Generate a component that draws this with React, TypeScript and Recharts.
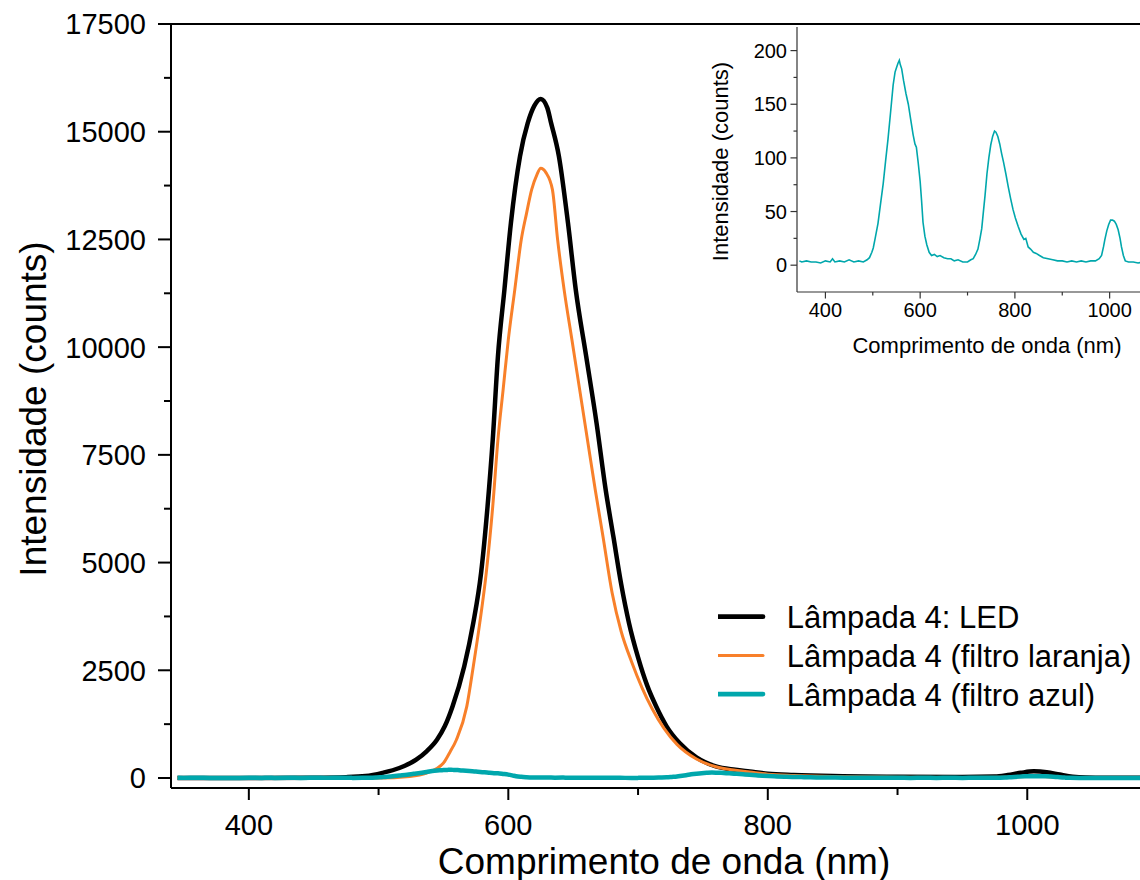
import React from "react";
import { LineChart, Line, XAxis, YAxis, ReferenceLine, Legend, Label } from "recharts";

const FONT = '"Liberation Sans", Arial, sans-serif';
const BLACK = "#000000";
const ORANGE = "#F8802A";
const TEAL = "#00A7AC";

// Lâmpada 4: LED (sem filtro)
const ledNm = [
  345, 400, 450, 475, 490, 503, 516, 529, 537, 545, 551, 557, 566, 573, 579, 584, 588, 592, 597, 602,
  609, 615, 620, 625, 630, 633, 639, 646, 652, 660, 668, 675, 681, 687, 693, 700, 707, 714, 722, 732,
  745, 760, 775, 786, 800, 820, 850, 900, 950, 975, 985, 995, 1005, 1015, 1025, 1035, 1045, 1060, 1100,
];
const ledCounts = [
  0, 2, 8, 20, 45, 120, 232, 425, 620, 889, 1200, 1662, 2590, 3598, 4759, 6305, 7853, 9787, 11335, 12883,
  14430, 15204, 15600, 15760, 15560, 15200, 14430, 12880, 11330, 9790, 8240, 6700, 5600, 4500, 3600, 2800, 2150, 1660, 1200, 810,
  480, 270, 190, 150, 100, 70, 45, 30, 25, 35, 70, 120, 155, 135, 80, 30, 10, 5, 5,
];

// Lâmpada 4 (filtro laranja)
const laranjaNm = [
  345, 500, 524, 537, 550, 555, 560, 568, 573, 578, 583, 588, 592, 596, 600, 605, 610, 614, 618, 622,
  625, 629, 634, 638, 643, 649, 655, 661, 667, 673, 680, 687, 695, 703, 711, 720, 730, 745, 760, 775,
  786, 800, 820, 850, 900, 950, 985, 1000, 1008, 1020, 1035, 1050, 1100,
];
const laranjaCounts = [
  0, 0, 37, 116, 348, 600, 889, 1662, 2590, 3600, 4760, 6305, 7853, 9014, 10175, 11335, 12496, 13100, 13656, 14000,
  14150, 14050, 13656, 12496, 11335, 10175, 9014, 7853, 6692, 5600, 4300, 3400, 2700, 2100, 1600, 1150, 780, 440, 260, 180,
  140, 90, 60, 35, 20, 12, 20, 35, 38, 25, 8, 3, 3,
];

// Lâmpada 4 (filtro azul)
const azulNm = [
  345, 350, 360, 370, 380, 390, 400, 410, 415, 420, 430, 440, 450, 460, 470, 480, 488, 493, 498, 501,
  505, 511, 516, 522, 527, 532, 537, 543, 547, 550, 553, 556, 558, 561, 565, 570, 575, 580, 585, 589,
  592, 596, 600, 603, 606, 610, 614, 619, 624, 630, 636, 642, 650, 658, 665, 672, 680, 690, 700, 707,
  712, 717, 722, 726, 730, 734, 737, 741, 745, 749, 753, 757, 760, 764, 768, 772, 776, 781, 786, 791,
  796, 801, 807, 813, 819, 823, 828, 833, 839, 845, 852, 860, 870, 880, 890, 900, 910, 920, 930, 940,
  950, 960, 970, 978, 983, 987, 990, 994, 998, 1002, 1006, 1010, 1014, 1018, 1022, 1025, 1029, 1033, 1040, 1050,
  1060, 1070, 1080, 1090, 1100,
];
const azulCounts = [
  4, 3, 4, 3, 3, 2, 4, 3, 6, 3, 4, 3, 5, 3, 4, 3, 5, 7, 12, 16,
  25, 39, 56, 76, 97, 117, 140, 168, 180, 184, 188, 191, 187, 183, 172, 160, 150, 136, 122, 113,
  110, 95, 78, 60, 40, 27, 19, 12, 9, 10, 8, 9, 7, 6, 6, 4, 5, 3, 3, 5,
  6, 10, 15, 24, 34, 52, 65, 85, 100, 112, 120, 125, 124, 120, 113, 104, 96, 85, 73, 62,
  52, 44, 36, 29, 24, 25, 17, 15, 12, 11, 9, 7, 6, 5, 4, 4, 3, 4, 3, 4,
  3, 4, 4, 6, 9, 17, 24, 32, 38, 42, 42, 41, 38, 33, 25, 17, 9, 4, 3, 3,
  2, 3, 3, 2, 3,
];

const mainXTicks = [400, 500, 600, 700, 800, 900, 1000];
const mainYTicks = [
  0, 1250, 2500, 3750, 5000, 6250, 7500, 8750, 10000, 11250, 12500, 13750, 15000, 16250, 17500,
];
const insetXTicks = [400, 500, 600, 700, 800, 900, 1000];
const insetYTicks = [0, 25, 50, 75, 100, 125, 150, 175, 200];

const toRows = (nm: number[], counts: number[]) =>
  nm.map((x, i) => ({ nm: x, counts: counts[i] }));

const ledData = toRows(ledNm, ledCounts);
const laranjaData = toRows(laranjaNm, laranjaCounts);
const azulData = toRows(azulNm, azulCounts);

// ticks with minor marks: tickSize=0 so (x, y) is on the axis line
const xTick =
  (majorStep: number, majorLen: number, minorLen: number, fontSize: number, labelDy: number, stroke: string, sw: number) =>
  (props: any) => {
    const { x, y, payload } = props;
    const major = payload.value % majorStep === 0;
    return (
      <g>
        <line x1={x} x2={x} y1={y} y2={y + (major ? majorLen : minorLen)} stroke={stroke} strokeWidth={sw} />
        {major && (
          <text x={x} y={y + labelDy} textAnchor="middle" fontSize={fontSize} fontFamily={FONT} fill="#000">
            {payload.value}
          </text>
        )}
      </g>
    );
  };

const yTick =
  (majorStep: number, majorLen: number, minorLen: number, fontSize: number, gap: number, stroke: string, sw: number) =>
  (props: any) => {
    const { x, y, payload } = props;
    const major = payload.value % majorStep === 0;
    return (
      <g>
        <line x1={x} x2={x - (major ? majorLen : minorLen)} y1={y} y2={y} stroke={stroke} strokeWidth={sw} />
        {major && (
          <text x={x - gap} y={y} dy="0.36em" textAnchor="end" fontSize={fontSize} fontFamily={FONT} fill="#000">
            {payload.value}
          </text>
        )}
      </g>
    );
  };

const renderLegend = () => {
  const items = [
    { name: "Lâmpada 4: LED", color: BLACK, w: 4.7 },
    { name: "Lâmpada 4 (filtro laranja)", color: ORANGE, w: 3 },
    { name: "Lâmpada 4 (filtro azul)", color: TEAL, w: 4.7 },
  ];
  return (
    <svg width={430} height={120}>
      {items.map((it, i) => (
        <g key={it.name}>
          <line x1={0} x2={45} y1={20.7 + 38.7 * i} y2={20.7 + 38.7 * i} stroke={it.color} strokeWidth={it.w} strokeLinecap="round" />
          <text x={68.7} y={32.3 + 38.7 * i} fontSize={31} fontFamily={FONT} fill="#000">
            {it.name}
          </text>
        </g>
      ))}
    </svg>
  );
};

export default function App() {
  return (
    <div
      style={{
        position: "fixed",
        left: 0,
        top: 0,
        width: 1140,
        height: 880,
        overflow: "hidden",
        background: "#fff",
        fontFamily: FONT,
      }}
    >
      {/* main spectrum */}
      <div style={{ position: "absolute", left: 0, top: 0 }}>
        <LineChart width={1200} height={880} margin={{ top: 24, right: 43, bottom: 0, left: 0 }}>
          <XAxis
            dataKey="nm"
            type="number"
            domain={[340, 1100]}
            ticks={mainXTicks}
            interval={0}
            allowDataOverflow
            height={92}
            tickSize={0}
            tickMargin={0}
            tickLine={false}
            axisLine={{ stroke: "#000", strokeWidth: 2 }}
            tick={xTick(200, 12, 7, 29, 47, "#000", 2)}
          >
            <Label
              content={(p: any) => (
                <text
                  x={p.viewBox.x + p.viewBox.width / 2}
                  y={p.viewBox.y + 85.5}
                  textAnchor="middle"
                  fontSize={37}
                  fontFamily={FONT}
                  fill="#000"
                >
                  Comprimento de onda (nm)
                </text>
              )}
            />
          </XAxis>
          <YAxis
            type="number"
            domain={[-232, 17500]}
            ticks={mainYTicks}
            interval={0}
            allowDataOverflow
            width={171}
            tickSize={0}
            tickMargin={0}
            tickLine={false}
            axisLine={{ stroke: "#000", strokeWidth: 2 }}
            tick={yTick(2500, 13, 7, 29, 25, "#000", 2)}
          >
            <Label
              content={(p: any) => {
                const cx = 46;
                const cy = p.viewBox.y + p.viewBox.height / 2 + 3;
                return (
                  <text
                    x={cx}
                    y={cy}
                    transform={`rotate(-90 ${cx} ${cy})`}
                    textAnchor="middle"
                    fontSize={37}
                    fontFamily={FONT}
                    fill="#000"
                  >
                    Intensidade (counts)
                  </text>
                );
              }}
            />
          </YAxis>
          <ReferenceLine y={17500} stroke="#000" strokeWidth={2} />
          <ReferenceLine x={1100} stroke="#000" strokeWidth={2} />
          <Line
            data={ledData}
            dataKey="counts"
            name="Lâmpada 4: LED"
            type="monotone"
            stroke={BLACK}
            strokeWidth={4.5}
            dot={false}
            isAnimationActive={false}
          />
          <Line
            data={laranjaData}
            dataKey="counts"
            name="Lâmpada 4 (filtro laranja)"
            type="monotone"
            stroke={ORANGE}
            strokeWidth={3}
            dot={false}
            isAnimationActive={false}
          />
          <Line
            data={azulData}
            dataKey="counts"
            name="Lâmpada 4 (filtro azul)"
            type="monotone"
            stroke={TEAL}
            strokeWidth={4.5}
            dot={false}
            isAnimationActive={false}
          />
          <Legend
            layout="vertical"
            align="center"
            verticalAlign="middle"
            wrapperStyle={{ left: 718, top: 596, width: 430, height: 120 }}
            content={renderLegend}
          />
        </LineChart>
      </div>

      {/* inset: filtro azul */}
      <div style={{ position: "absolute", left: 700, top: 0 }}>
        <LineChart width={500} height={380} margin={{ top: 27, right: 43, bottom: 0, left: 0 }}>
          <XAxis
            dataKey="nm"
            type="number"
            domain={[340, 1100]}
            ticks={insetXTicks}
            interval={0}
            allowDataOverflow
            height={88}
            tickSize={0}
            tickMargin={0}
            tickLine={false}
            axisLine={{ stroke: "#333", strokeWidth: 1.2 }}
            tick={xTick(200, 6.5, 3.5, 20, 25.3, "#333", 1.2)}
          >
            <Label
              content={(p: any) => (
                <text
                  x={p.viewBox.x + p.viewBox.width / 2 + 10}
                  y={p.viewBox.y + 60.7}
                  textAnchor="middle"
                  fontSize={22}
                  fontFamily={FONT}
                  fill="#000"
                >
                  Comprimento de onda (nm)
                </text>
              )}
            />
          </XAxis>
          <YAxis
            type="number"
            domain={[-25, 222]}
            ticks={insetYTicks}
            interval={0}
            allowDataOverflow
            width={97}
            tickSize={0}
            tickMargin={0}
            tickLine={false}
            axisLine={{ stroke: "#333", strokeWidth: 1.2 }}
            tick={yTick(50, 6.5, 3.5, 20, 10, "#333", 1.2)}
          >
            <Label
              content={(p: any) => {
                const cx = 28;
                const cy = p.viewBox.y + p.viewBox.height / 2 + 2;
                return (
                  <text
                    x={cx}
                    y={cy}
                    transform={`rotate(-90 ${cx} ${cy})`}
                    textAnchor="middle"
                    fontSize={22}
                    fontFamily={FONT}
                    fill="#000"
                  >
                    Intensidade (counts)
                  </text>
                );
              }}
            />
          </YAxis>
          <Line
            data={azulData}
            dataKey="counts"
            type="linear"
            stroke={TEAL}
            strokeWidth={1.6}
            dot={false}
            isAnimationActive={false}
          />
        </LineChart>
      </div>
    </div>
  );
}
